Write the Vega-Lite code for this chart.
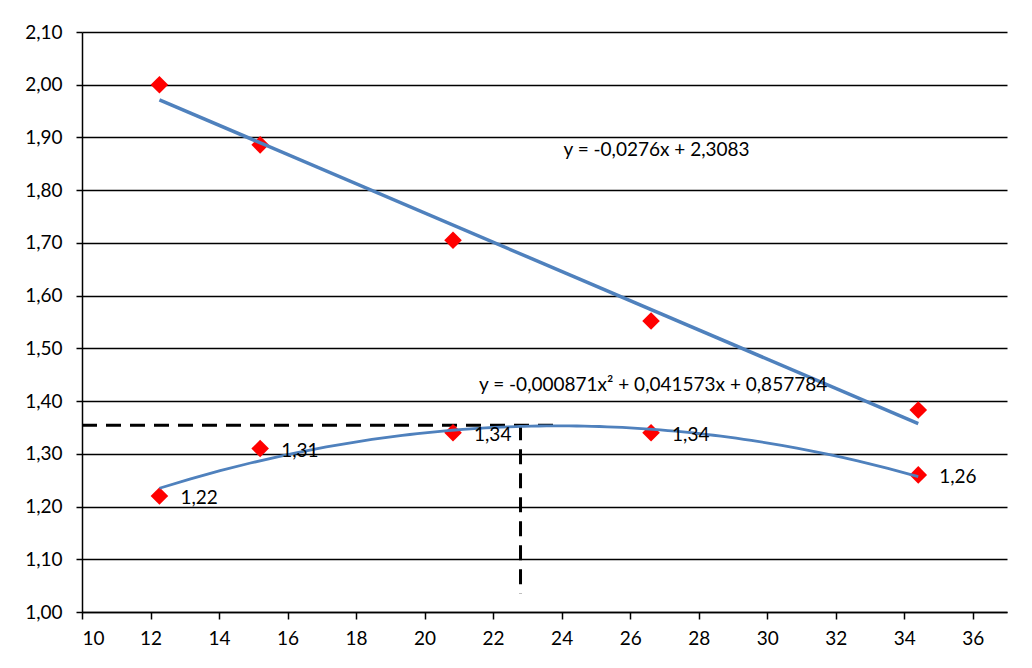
{
  "$schema": "https://vega.github.io/schema/vega-lite/v6.json",
  "width": 925,
  "height": 580,
  "autosize": {"type": "none"},
  "padding": {"left": 82, "top": 32, "right": 25, "bottom": 56},
  "background": "white",
  "config": {
    "locale": {"number": {"decimal": ",", "thousands": ".", "grouping": [3], "currency": ["", " €"]}},
    "view": {"stroke": null},
    "font": "Lato",
    "axis": {
      "labelFont": "Lato",
      "labelFontSize": 19,
      "labelColor": "black",
      "domainColor": "black",
      "domainWidth": 1.5,
      "tickColor": "black",
      "tickWidth": 1.5,
      "tickSize": 7,
      "title": null
    }
  },
  "datasets": {
    "obs": [
      {"series": "upper", "x": 12.26, "y": 2.0},
      {"series": "upper", "x": 15.2, "y": 1.886},
      {"series": "upper", "x": 20.83, "y": 1.705},
      {"series": "upper", "x": 26.61, "y": 1.552},
      {"series": "upper", "x": 34.41, "y": 1.383},
      {"series": "lower", "x": 12.26, "y": 1.22},
      {"series": "lower", "x": 15.2, "y": 1.31},
      {"series": "lower", "x": 20.83, "y": 1.34},
      {"series": "lower", "x": 26.61, "y": 1.34},
      {"series": "lower", "x": 34.41, "y": 1.26}
    ],
    "guides": [
      {"x": 10, "x2": 23.8, "y": 1.354, "y2": 1.354},
      {"x": 22.8, "x2": 22.8, "y": 1.354, "y2": 1.035}
    ],
    "notes": [
      {"x": 26.77, "y": 1.877, "label": "y = -0,0276x + 2,3083"},
      {"x": 26.67, "y": 1.431, "label": "y = -0,000871x² + 0,041573x + 0,857784"}
    ]
  },
  "layer": [
    {
      "data": {"name": "guides"},
      "mark": {"type": "rule", "color": "black", "strokeWidth": 3, "strokeDash": [15, 9]},
      "encoding": {
        "x": {"field": "x", "type": "quantitative", "scale": {"domain": [10, 37], "nice": false, "zero": false},
          "axis": {"values": [10, 12, 14, 16, 18, 20, 22, 24, 26, 28, 30, 32, 34, 36], "grid": false, "labelPadding": 10, "format": "d"}},
        "x2": {"field": "x2"},
        "y": {"field": "y", "type": "quantitative", "scale": {"domain": [1.0, 2.1], "nice": false, "zero": false},
          "axis": {"values": [1.0, 1.1, 1.2, 1.3, 1.4, 1.5, 1.6, 1.7, 1.8, 1.9, 2.0, 2.1], "format": ".2f", "grid": true, "gridColor": "black", "gridWidth": 1.3, "gridOpacity": 1, "tickSize": 6, "labelPadding": 14}},
        "y2": {"field": "y2"}
      }
    },
    {
      "data": {"name": "obs"},
      "mark": {"type": "point", "shape": "diamond", "filled": true, "color": "#FF0000", "size": 310, "opacity": 1},
      "encoding": {
        "x": {"field": "x", "type": "quantitative"},
        "y": {"field": "y", "type": "quantitative"}
      }
    },
    {
      "data": {"name": "obs"},
      "transform": [
        {"filter": "datum.series === 'upper'"},
        {"regression": "y", "on": "x", "method": "linear"}
      ],
      "mark": {"type": "line", "color": "#4F81BD", "strokeWidth": 3.5},
      "encoding": {
        "x": {"field": "x", "type": "quantitative"},
        "y": {"field": "y", "type": "quantitative"}
      }
    },
    {
      "data": {"name": "obs"},
      "transform": [
        {"filter": "datum.series === 'lower'"},
        {"regression": "y", "on": "x", "method": "poly", "order": 2}
      ],
      "mark": {"type": "line", "color": "#4F81BD", "strokeWidth": 2.8},
      "encoding": {
        "x": {"field": "x", "type": "quantitative"},
        "y": {"field": "y", "type": "quantitative"}
      }
    },
    {
      "data": {"name": "obs"},
      "transform": [{"filter": "datum.series === 'lower'"}],
      "mark": {"type": "text", "align": "left", "baseline": "middle", "dx": 21, "dy": 2, "fontSize": 19, "font": "Lato", "color": "black"},
      "encoding": {
        "x": {"field": "x", "type": "quantitative"},
        "y": {"field": "y", "type": "quantitative"},
        "text": {"field": "y", "type": "quantitative", "format": ".2f"}
      }
    },
    {
      "data": {"name": "notes"},
      "mark": {"type": "text", "align": "center", "baseline": "middle", "fontSize": 19, "font": "Lato", "color": "black"},
      "encoding": {
        "x": {"field": "x", "type": "quantitative"},
        "y": {"field": "y", "type": "quantitative"},
        "text": {"field": "label"}
      }
    }
  ]
}
